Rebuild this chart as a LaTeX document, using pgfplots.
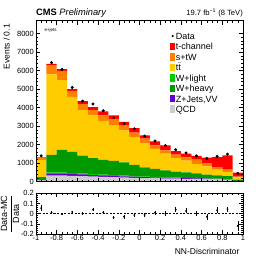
\documentclass[border=0pt]{standalone}
\usepackage{pgfplots}
\pgfplotsset{compat=1.18}
\usepackage{amsmath}
\usepackage{fontspec}
\setmainfont{Liberation Sans}
\definecolor{tch}{RGB}{255,0,0}
\definecolor{stw}{RGB}{255,128,0}
\definecolor{ttb}{RGB}{255,204,0}
\definecolor{wlt}{RGB}{0,204,0}
\definecolor{whv}{RGB}{0,153,0}
\definecolor{zjt}{RGB}{102,0,204}
\definecolor{qcd}{RGB}{204,204,204}
\pgfplotsset{
  rootframe/.style={
    scale only axis, xmin=-1, xmax=1,
    tick align=inside,
    major tick length=4pt, minor tick length=2pt,
    every tick/.style={black, line width=0.5pt},
    axis line style={line width=0.7pt},
    /pgf/number format/assume math mode=true,
    /pgf/number format/1000 sep={},
    ticklabel style={font=\fontsize{7.5}{8}\selectfont},
    xtick={-1,-0.8,-0.6,-0.4,-0.2,0,0.2,0.4,0.6,0.8,1},
    minor x tick num=3,
  },
  box/.style={legend image code/.code={\fill[#1, draw=none] (0pt,-2.75pt) rectangle (5.5pt,4.75pt);}},
}
\begin{document}
\begin{tikzpicture}
\useasboundingbox (0pt,0pt) rectangle (270pt,263pt);
% main stacked histogram
\begin{axis}[rootframe, at={(36pt,81.5pt)}, anchor=south west, width=207pt, height=160.8pt,
  ymin=0, ymax=8700, ybar stacked, bar width=0.1, axis on top,
  xticklabels={},
  ytick={0,1000,2000,3000,4000,5000,6000,7000,8000}, minor y tick num=4, scaled y ticks=false,
  yticklabel style={inner sep=0.5pt, xshift=-1.5pt},
  ylabel={Events / 0.1},
  ylabel style={at={(axis description cs:-0.128,1)}, anchor=base east, font=\fontsize{8.5}{9}\selectfont},
]
\addplot[fill=qcd, draw=none] coordinates {(-0.95,60) (-0.85,320) (-0.75,320) (-0.65,300) (-0.55,280) (-0.45,260) (-0.35,250) (-0.25,230) (-0.15,210) (-0.05,200) (0.05,180) (0.15,170) (0.25,160) (0.35,150) (0.45,140) (0.55,130) (0.65,120) (0.75,110) (0.85,100) (0.95,20)};
\addplot[fill=zjt, draw=none] coordinates {(-0.95,20) (-0.85,120) (-0.75,120) (-0.65,110) (-0.55,100) (-0.45,90) (-0.35,80) (-0.25,75) (-0.15,70) (-0.05,65) (0.05,60) (0.15,55) (0.25,50) (0.35,45) (0.45,40) (0.55,38) (0.65,35) (0.75,33) (0.85,30) (0.95,10)};
\addplot[fill=wlt, draw=none] coordinates {(-0.95,10) (-0.85,60) (-0.75,60) (-0.65,55) (-0.55,50) (-0.45,45) (-0.35,42) (-0.25,40) (-0.15,36) (-0.05,33) (0.05,30) (0.15,28) (0.25,26) (0.35,24) (0.45,22) (0.55,20) (0.65,18) (0.75,17) (0.85,16) (0.95,5)};
\addplot[fill=whv, draw=none] coordinates {(-0.95,150) (-0.85,940) (-0.75,1212) (-0.65,1138) (-0.55,973) (-0.45,865) (-0.35,798) (-0.25,769) (-0.15,724) (-0.05,602) (0.05,490) (0.15,437) (0.25,364) (0.35,321) (0.45,288) (0.55,252) (0.65,197) (0.75,175) (0.85,139) (0.95,60)};
\addplot[fill=ttb, draw=none] coordinates {(-0.95,920) (-0.85,4360) (-0.75,3774) (-0.65,2982) (-0.55,2462) (-0.45,2318) (-0.35,2116) (-0.25,1940) (-0.15,1720) (-0.05,1505) (0.05,1320) (0.15,1070) (0.25,903) (0.35,730) (0.45,634) (0.55,506) (0.65,452) (0.75,303) (0.85,229) (0.95,132)};
\addplot[fill=stw, draw=none] coordinates {(-0.95,130) (-0.85,497) (-0.75,504) (-0.65,325) (-0.55,324) (-0.45,287) (-0.35,292) (-0.25,341) (-0.15,260) (-0.05,245) (0.05,234) (0.15,197) (0.25,183) (0.35,179) (0.45,184) (0.55,232) (0.65,178) (0.75,146) (0.85,124) (0.95,33)};
\addplot[fill=tch, draw=none] coordinates {(-0.95,25) (-0.85,69) (-0.75,90) (-0.65,95) (-0.55,161) (-0.45,162) (-0.35,214) (-0.25,182) (-0.15,204) (-0.05,237) (0.05,178) (0.15,211) (0.25,264) (0.35,197) (0.45,195) (0.55,203) (0.65,288) (0.75,530) (0.85,777) (0.95,227)};
\end{axis}
% data overlay + legend
\begin{axis}[rootframe, at={(36pt,81.5pt)}, anchor=south west, width=207pt, height=160.8pt,
  ymin=0, ymax=8700, hide axis, clip=false,
  legend style={at={(axis description cs:0.647,0.928)}, anchor=north west, draw=none, fill=none,
    inner sep=0pt, outer sep=0pt, font=\fontsize{9}{10}\selectfont, row sep=1.5pt, column sep=0.5pt,
    nodes={inner sep=0pt, text height=6.5pt, text depth=1.9pt}},
  legend cell align=left,
]
\addplot[only marks, mark=*, mark size=1.3pt, black,
  legend image code/.code={\path[draw=none, fill=none] (0pt,-2.75pt) rectangle (5.5pt,4.75pt); \fill[black, draw=none] (2.75pt,1pt) circle (1.2pt);},
  error bars/.cd, y dir=both, y explicit, error mark=none, error bar style={line width=0.5pt}]
  coordinates {(-0.95,1390) +- (0,37) (-0.85,6430) +- (0,80) (-0.75,6050) +- (0,78) (-0.65,5090) +- (0,71) (-0.55,4350) +- (0,66) (-0.45,4195) +- (0,65) (-0.35,3830) +- (0,62) (-0.25,3450) +- (0,59) (-0.15,3130) +- (0,56) (-0.05,2850) +- (0,53) (0.05,2460) +- (0,50) (0.15,2190) +- (0,47) (0.25,1950) +- (0,44) (0.35,1715) +- (0,41) (0.45,1545) +- (0,39) (0.55,1385) +- (0,37) (0.65,1250) +- (0,35) (0.75,1360) +- (0,37) (0.85,1480) +- (0,38) (0.95,435) +- (0,21)};
\addlegendentry{Data}
\addlegendimage{box=tch}\addlegendentry{t-channel}
\addlegendimage{box=stw}\addlegendentry{s+tW}
\addlegendimage{box=ttb}\addlegendentry{$\mathrm{t}\bar{\mathrm{t}}$}
\addlegendimage{box=wlt}\addlegendentry{W+light}
\addlegendimage{box=whv}\addlegendentry{W+heavy}
\addlegendimage{box=zjt}\addlegendentry{Z+Jets,VV}
\addlegendimage{box=qcd}\addlegendentry{QCD}
\end{axis}
% ratio panel
\begin{axis}[rootframe, at={(36pt,29pt)}, anchor=south west, width=207pt, height=40.7pt,
  ymin=-0.2, ymax=0.2,
  ytick={-0.2,-0.1,0,0.1,0.2}, yticklabels={-0.2,-0.1,0,0.1,0.2}, minor y tick num=4,
  xticklabels={-1,-0.8,-0.6,-0.4,-0.2,0,0.2,0.4,0.6,0.8,1},
  xticklabel style={inner sep=0.5pt, yshift=-0.5pt},
  yticklabel style={inner sep=0.5pt, xshift=-1.5pt},
  xlabel={NN-Discriminator},
  xlabel style={at={(axis description cs:1,-0.511)}, anchor=base east, font=\fontsize{8.5}{9}\selectfont},
  ylabel={$\displaystyle\frac{\text{Data-MC}}{\text{Data}}$},
  ylabel style={at={(axis description cs:-0.1256,0.5)}, anchor=center, font=\fontsize{9}{10}\selectfont},
]
\addplot[black, line width=0.4pt, dash pattern=on 2pt off 1.5pt] coordinates {(-1,0) (1,0)};
\addplot[only marks, mark=*, mark size=0.7pt, black,
  error bars/.cd, y dir=both, y explicit, error mark=none, error bar style={line width=0.5pt}]
  coordinates {(-0.95,0.054) +- (0,0.027) (-0.85,0.01) +- (0,0.012) (-0.75,-0.005) +- (0,0.013) (-0.65,0.017) +- (0,0.014) (-0.55,0) +- (0,0.015) (-0.45,0.04) +- (0,0.015) (-0.35,0.01) +- (0,0.016) (-0.25,-0.037) +- (0,0.017) (-0.15,-0.03) +- (0,0.018) (-0.05,-0.013) +- (0,0.019) (0.05,-0.013) +- (0,0.02) (0.15,0.01) +- (0,0.021) (0.25,0) +- (0,0.023) (0.35,0.04) +- (0,0.024) (0.45,0.027) +- (0,0.025) (0.55,0.003) +- (0,0.027) (0.65,-0.03) +- (0,0.028) (0.75,0.034) +- (0,0.027) (0.85,0.044) +- (0,0.026) (0.95,-0.12) +- (0,0.048)};
\end{axis}
\node[anchor=base west, inner sep=0pt] at (36pt,247.3pt) {\fontsize{9.3}{10}\selectfont\textbf{CMS} \textit{Preliminary}};
\node[anchor=base east, inner sep=0pt] at (243pt,247.3pt) {\fontsize{7.6}{9}\selectfont 19.7 fb\textsuperscript{−1} (8 TeV)};
\node[anchor=base west, inner sep=0pt] at (44.3pt,231.5pt) {\fontsize{4.5}{5}\selectfont e+jets};
\end{tikzpicture}
\end{document}
